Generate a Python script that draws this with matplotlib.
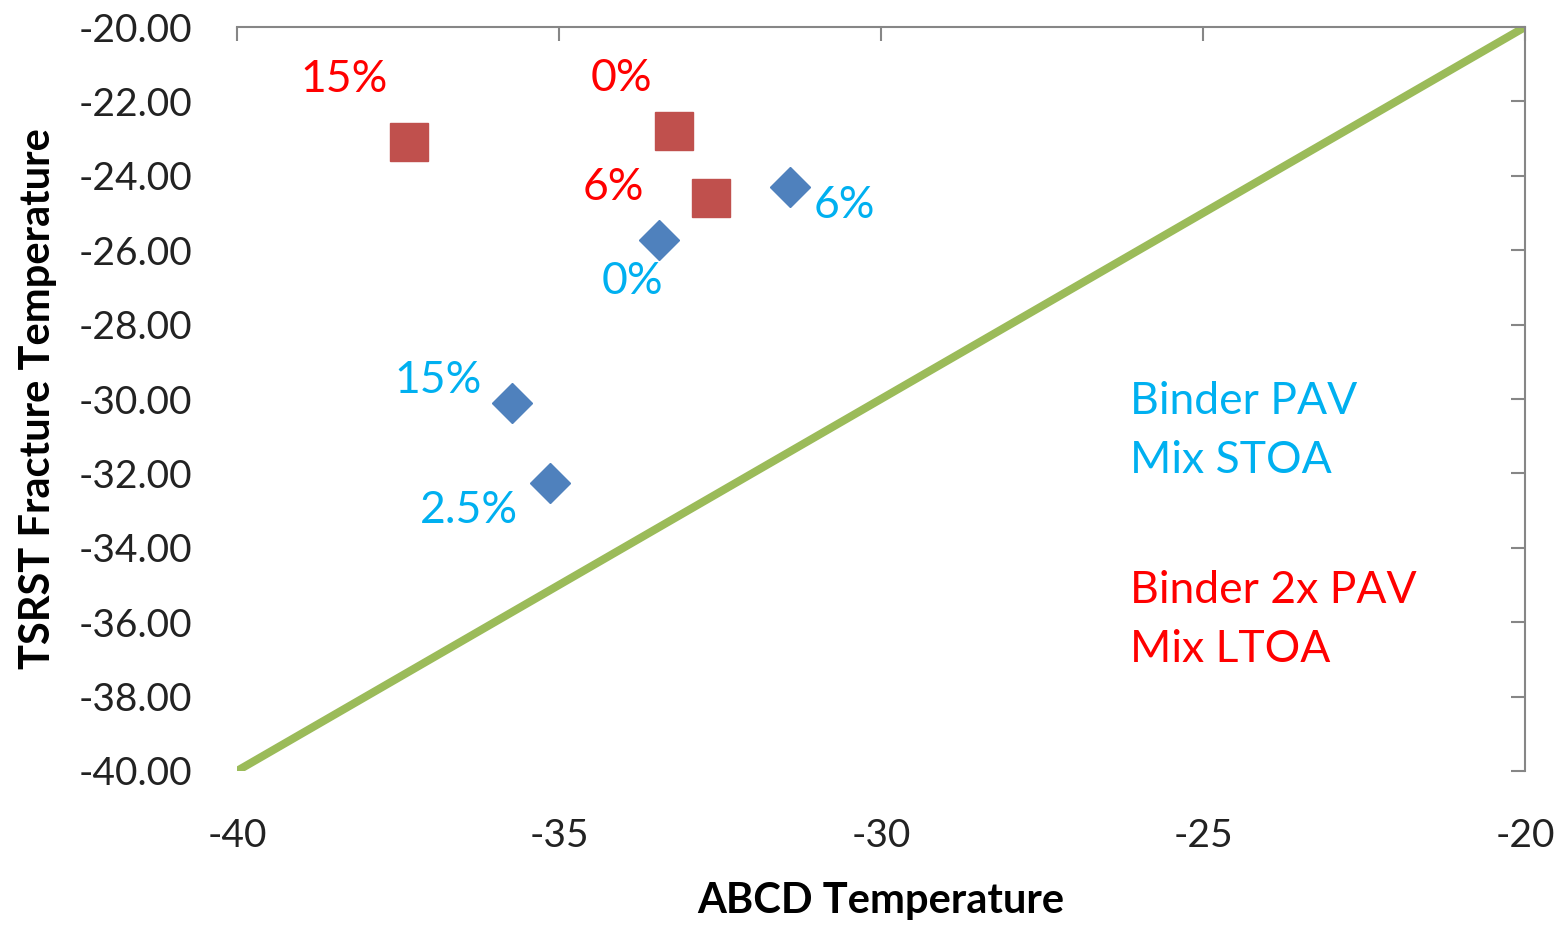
import matplotlib
matplotlib.use("Agg")
import matplotlib.pyplot as plt

plt.rcParams["font.family"] = ["Lato", "DejaVu Sans"]
plt.rcParams["axes.unicode_minus"] = False

# ABCD vs TSRST temperatures
stoa_x = [-31.41, -33.45, -35.73, -35.14]
stoa_y = [-24.30, -25.73, -30.11, -32.26]
stoa_labels = ["6%", "0%", "15%", "2.5%"]
stoa_offsets = [(39, -13), (-19, -30), (-53, 16), (-58, -20)]

ltoa_x = [-37.33, -33.21, -32.64]
ltoa_y = [-23.09, -22.80, -24.60]
ltoa_labels = ["15%", "0%", "6%"]
ltoa_offsets = [(-47, 45), (-38, 38), (-70, 8)]

line_x = [-40, -20]
line_y = [-40, -20]

fig = plt.figure(figsize=(15.68, 9.26), dpi=100)
ax = fig.add_axes([0.1511, 0.1674, 0.8215, 0.8034])

ax.plot(line_x, line_y, color="#9BBB59", lw=5.8, solid_capstyle="butt", zorder=2)
ax.plot(stoa_x, stoa_y, ls="none", marker="D", ms=20, color="#4F81BD", zorder=3)
ax.plot(ltoa_x, ltoa_y, ls="none", marker="s", ms=27, color="#C0504D", zorder=3)

for x, y, t, off in zip(stoa_x, stoa_y, stoa_labels, stoa_offsets):
    ax.annotate(t, (x, y), xytext=off, textcoords="offset points",
                ha="center", va="center", color="#00B0F0", fontsize=32)
for x, y, t, off in zip(ltoa_x, ltoa_y, ltoa_labels, ltoa_offsets):
    ax.annotate(t, (x, y), xytext=off, textcoords="offset points",
                ha="center", va="center", color="#FF0000", fontsize=32)

ax.text(0.693, 0.457, "Binder PAV\nMix STOA", transform=ax.transAxes,
        ha="left", va="center", color="#00B0F0", fontsize=32, linespacing=1.55)
ax.text(0.693, 0.203, "Binder 2x PAV\nMix LTOA", transform=ax.transAxes,
        ha="left", va="center", color="#FF0000", fontsize=32, linespacing=1.55)

ax.set_xlim(-40, -20)
ax.set_ylim(-40, -20)
ax.set_xticks(range(-40, -19, 5))
ax.set_yticks(range(-40, -19, 2))
ax.set_yticklabels([f"{v:.2f}" for v in range(-40, -19, 2)])

for s in ["left", "bottom"]:
    ax.spines[s].set_visible(False)
for s in ["top", "right"]:
    ax.spines[s].set_color("#868686")
    ax.spines[s].set_linewidth(1.5)

ax.tick_params(axis="x", top=True, bottom=False, direction="in", length=10,
               width=1.5, color="#868686", labelsize=28, pad=34, labelcolor="#222222")
ax.tick_params(axis="y", right=True, left=False, direction="in", length=10,
               width=1.5, color="#868686", labelsize=28, pad=32, labelcolor="#222222")

ax.set_xlabel("ABCD Temperature", fontsize=30, fontweight="bold", labelpad=20)
ax.set_ylabel("TSRST Fracture Temperature", fontsize=30, fontweight="bold", labelpad=16)

fig.savefig("out.png", dpi=100)
